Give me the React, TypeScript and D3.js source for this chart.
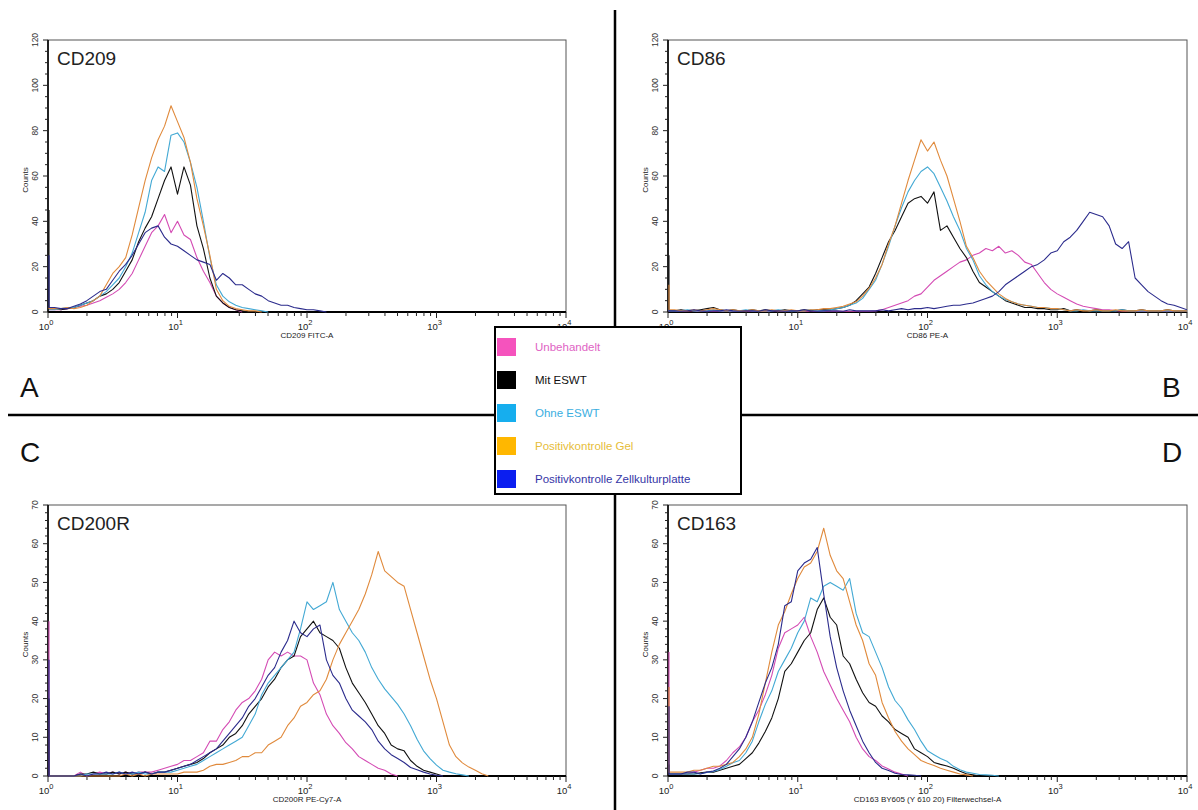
import React from "react";
import * as d3 from "d3";

// histogram bins: value i sits at 10^(i * BIN_STEP); bin 0 is the pile-up at the axis edge
const BIN_STEP = 0.05;

const seriesNames = [
  "Unbehandelt",
  "Mit ESWT",
  "Ohne ESWT",
  "Positivkontrolle Gel",
  "Positivkontrolle Zellkulturplatte",
];
const lineColors = ["#d44bb4", "#111111", "#43a9d4", "#e08a3c", "#2b2b8c"];
const swatchColors = ["#f553bd", "#000000", "#16aeee", "#ffb700", "#0b1ef0"];
const textColors = ["#e063c4", "#111111", "#3aaedf", "#e6bd3a", "#3535a6"];

// CD209
const cd209Pink = [1, 1, 1, 1.5, 2, 2.5, 3, 4, 5, 6.5, 8, 10, 13, 17, 23, 29, 35, 38, 43, 35, 40, 34, 32, 24, 18, 13, 7, 4, 2, 1, 0];
const cd209Black = [45, 1.5, 1, 1.5, 2, 3, 4, 5, 7, 8, 10, 13, 18, 23, 31, 37, 42, 50, 58, 64, 52, 64, 56, 38, 28, 15, 7, 4, 2, 1, 0.5, 0];
const cd209Cyan = [1, 1, 1.5, 2, 2, 3, 4, 5, 7, 9, 12, 15, 20, 26, 35, 44, 58, 64, 62, 78, 79, 75, 66, 55, 40, 24, 12, 7, 4.5, 3, 2, 1.5, 1, 0.5, 0];
const cd209Orange = [2, 1.5, 1.5, 2, 1.5, 2, 3, 5, 7, 12, 17, 20, 24, 34, 46, 58, 68, 76, 82, 91, 84, 77, 66, 50, 38, 25, 10, 5, 2.5, 1.5, 1, 0.5, 0.5, 0];
const cd209Navy = [25, 2, 1.5, 1.5, 2.5, 3.5, 5, 7, 9, 10, 14, 18, 21, 25, 30, 35, 37, 38, 33, 30, 29, 27, 25, 23, 22, 21, 14, 17, 15, 12, 12, 10, 8, 7, 5, 4, 3, 3, 2, 1.5, 1, 1, 0.5, 0];

// CD86
const cd86Pink = [1, 0.3, 0.3, 0.3, 0.3, 0.3, 0.3, 0.3, 0.3, 0.3, 0.3, 0.3, 0.3, 0.3, 0.3, 0.3, 0.3, 0.3, 0.3, 0.3, 0.3, 0.3, 0.3, 0.3, 0.3, 0.3, 0.3, 0.3, 0.3, 0.3, 0.3, 0.3, 0.5,
  1, 2, 3, 4, 5, 7, 8, 11, 14, 16, 18, 20, 22, 23, 25, 26, 28, 27, 29, 26, 27, 25, 22, 21, 17, 13, 10, 8, 6.5, 5, 3.5, 2.5, 2, 1.5, 1, 1, 0.5,
  0.5, 0.3, 0.3, 0.3, 0.3, 0.3, 0.3, 0.3, 0.3, 0.3, 0.3];
const cd86Black = [25, 0.5, 1, 0.5, 0.5, 1, 1.5, 2, 1, 0.5, 1, 0.5, 0.5, 1, 0.5, 1, 0.5, 0.5, 1, 0.5, 0.5, 1, 0.5, 1, 1,
  1, 1.5, 2, 3, 5, 8, 11, 17, 24, 31, 36, 42, 48, 50, 51, 48, 53, 36, 38, 33, 28, 24, 18, 13, 11, 9, 7, 5, 4, 3, 2, 2, 1.5, 1.5, 1, 1, 1.5,
  0.5, 1, 0.5, 0.5, 1, 0.5, 0.5, 0.5, 1, 0.5, 0.5, 1, 0.5, 0.5, 0.5, 1, 0.5, 0.5, 0.5];
const cd86Cyan = [1, 0.5, 0.5, 1, 0.5, 0.5, 0.5, 1, 0.5, 0.5, 0.5, 0.5, 1, 0.5, 0.5, 0.5, 0.5, 1, 0.5, 0.5, 0.5, 0.5, 1, 0.5, 0.5,
  1, 1.5, 2, 3, 4, 6, 10, 14, 21, 29, 38, 46, 53, 58, 62, 64, 61, 55, 49, 42, 36, 28, 23, 16, 12, 9, 7, 5.5, 4.5, 3.5, 3, 2.5, 2, 2, 1.5, 1.5, 1,
  0.5, 0.5, 1, 0.5, 0.5, 0.5, 0.5, 0.5, 1, 0.5, 0.5, 0.5, 0.5, 0.5, 0.5, 0.5, 0.5, 0.5, 0.5];
const cd86Orange = [12, 1, 0.5, 0.5, 1, 0.5, 1, 1.5, 1, 0.5, 1, 0.5, 0.5, 1, 0.5, 0.5, 1, 0.5, 0.5, 1, 0.5, 0.5, 1, 1, 1.5,
  1.5, 2, 2.5, 3.5, 4.5, 7, 10.5, 15, 21, 30, 38, 48, 58, 67, 76, 71, 75, 67, 60, 50, 40, 29, 24, 18, 14, 11, 8, 6, 4.5, 3.5, 3, 2.5, 2, 2, 1.5, 1.5,
  1, 0.5, 1, 0.5, 0.5, 1, 0.5, 0.5, 1, 0.5, 0.5, 0.5, 1, 0.5, 0.5, 0.5, 1, 0.5, 0.5, 0.5];
const cd86Navy = [1, 0.5, 0.3, 0.5, 1, 0.5, 0.3, 0.5, 0.5, 1, 0.5, 0.3, 0.5, 0.5, 0.3, 1, 0.5, 0.5, 0.3, 0.5, 0.5, 1, 0.5, 0.3, 0.5, 0.5, 0.5, 0.3, 1, 0.5, 0.5, 0.5, 0.5,
  1, 0.5, 1, 1.5, 1, 1.5, 1.5, 2, 1.5, 2, 2.5, 3, 3, 3.5, 4, 5, 6, 7, 9, 12, 14, 16, 18, 20, 21, 23, 26, 27, 31, 33, 36, 40, 44, 43, 42, 38, 30, 28, 31,
  15, 12, 9, 7, 5, 3.5, 3, 2, 1];

// CD200R
const cd200Pink = [40, 0, 0, 0, 0, 1, 0, 0.5, 1, 0.5, 1, 0.5, 1, 0.5, 1, 1, 1, 1.5, 2, 2.5, 3, 4, 4, 5, 6, 9, 9, 12, 14, 17, 19, 20, 22, 25, 30, 32, 31, 32, 31, 31, 30, 24, 21, 16, 13, 11, 8.6, 7, 5, 4, 3, 2, 1.5, 0.5, 0];
const cd200Black = [20, 0, 0, 0, 0, 0.5, 0.5, 1, 0.5, 0.5, 1, 0.5, 1, 0.5, 0.5, 1, 0.5, 1, 1, 1.5, 2, 2.5, 3, 3.5, 4.5, 6, 7, 8, 10, 11, 13, 16, 18, 20, 23, 25, 28, 30, 31, 36, 38, 40, 37, 36, 35, 33, 28, 24, 21.5, 19, 16, 13, 11, 8, 7, 6.5, 4, 2.5, 1.5, 1, 0.5, 0];
const cd200Cyan = [0, 0, 0, 0, 0, 0, 0.5, 0.5, 0.5, 0.5, 0.5, 1, 0.5, 0.5, 1, 0.5, 0.5, 1, 1, 1, 1.5, 2, 2.5, 3, 4, 5, 6, 7, 8, 9, 10, 13, 16, 21, 24, 26, 28, 30, 32, 38, 45, 43, 44, 45, 50, 43, 40, 37, 35, 32, 28, 25, 22.5, 20.5, 18.5, 16, 13, 9.5, 6.5, 4.5, 2.8, 1.5, 1, 0.6, 0.3, 0];
const cd200Orange = [0, 0, 0, 0, 0, 0, 0, 0, 0, 0, 0, 0, 0.5, 0, 0.5, 0, 0.5, 0.5, 0.5, 0.5, 0.5, 1, 1, 1, 1.5, 2.5, 3, 3, 3.5, 4, 5, 5, 6, 6, 8, 9, 10, 13, 15, 18, 19, 21, 22, 25, 30, 34, 37, 40, 43, 47, 52, 58, 53, 51.5, 50, 49, 43, 37, 31, 25, 20, 14, 8, 5, 3.4, 2.3, 1.5, 0.6, 0];
const cd200Navy = [30, 0, 0, 0, 0, 0.5, 0, 0.5, 0.5, 1, 0.5, 1, 0.5, 1, 0.5, 1, 0.5, 1, 1, 1.5, 2, 2.5, 3, 4, 5, 6, 7, 9, 11, 13, 15, 18, 20, 23, 26, 28, 32, 35, 40, 37, 36, 38, 39, 30, 26, 24, 20, 17, 15.5, 14, 12, 9, 7, 5.5, 4.5, 3.5, 2.2, 1.6, 1, 0.5, 0.2, 0];

// CD163
const cd163Pink = [32, 0.5, 0.5, 0.5, 1, 1.5, 2, 2, 2.6, 4, 6, 7.5, 10, 14, 17, 21, 26, 33, 37, 38, 39, 41, 36, 32, 27, 23.5, 20, 17, 14, 10, 7, 5, 4, 2.6, 1.8, 1, 0.5, 0];
const cd163Black = [3, 0.5, 0.5, 0.5, 0.5, 0.8, 1, 1, 1.5, 2, 2.5, 3, 4.5, 6, 8.5, 11.5, 15, 20, 27, 29, 32, 35, 37, 43, 46, 41, 39, 31, 29, 25, 21.5, 19, 18, 15.5, 14, 12, 11, 10, 7, 6, 5, 3.5, 3, 2.6, 2, 1.2, 0.6, 0.3, 0];
const cd163Cyan = [0.5, 0.5, 0.5, 0.5, 0.5, 0.6, 0.9, 1.2, 1.7, 2.5, 3.4, 4, 6, 9, 14, 18.5, 22, 27, 30, 33, 37, 40, 46, 45, 49, 50, 49, 48, 51, 42, 37, 36, 32, 28, 23, 19.5, 17.5, 14.5, 12, 9, 6.5, 5.5, 4.5, 3.8, 2.5, 1.6, 1, 0.7, 0.4, 0.3, 0.2, 0];
const cd163Orange = [23, 1, 1, 1, 1.5, 1.5, 2, 2.5, 2.5, 3, 3.5, 5, 7, 10, 16, 24, 32, 39, 42.5, 47, 51, 54, 55, 58, 64, 57, 53, 51, 45, 39, 35, 29, 26, 19, 15, 11.5, 9, 7, 5.5, 4, 3.3, 2.7, 2, 1.5, 1, 0.5, 0.3, 0];
const cd163Navy = [18, 0.5, 0.5, 1, 1, 0.5, 1, 1.3, 2, 3, 5, 7, 10, 14, 19, 24, 28, 34, 44, 45, 53, 55, 56, 59, 47, 36, 28, 22, 17, 13, 9, 6, 3.5, 2, 1.4, 0.7, 0.4, 0.3, 0.2, 0];

const xDecades = [1, 10, 100, 1000, 10000];

const panels = [
  { title: "CD209", xTitle: "CD209 FITC-A", left: 48, right: 566, top: 40, bottom: 312, yMax: 120, yMajor: 20, yMinor: 5,
    series: [cd209Pink, cd209Black, cd209Cyan, cd209Orange, cd209Navy] },
  { title: "CD86", xTitle: "CD86 PE-A", left: 668, right: 1187, top: 40, bottom: 312, yMax: 120, yMajor: 20, yMinor: 5,
    series: [cd86Pink, cd86Black, cd86Cyan, cd86Orange, cd86Navy] },
  { title: "CD200R", xTitle: "CD200R PE-Cy7-A", left: 48, right: 566, top: 505, bottom: 776, yMax: 70, yMajor: 10, yMinor: 2,
    series: [cd200Pink, cd200Black, cd200Cyan, cd200Orange, cd200Navy] },
  { title: "CD163", xTitle: "CD163 BY605 (Y 610 20) Filterwechsel-A", left: 668, right: 1187, top: 505, bottom: 776, yMax: 70, yMajor: 10, yMinor: 2,
    series: [cd163Pink, cd163Black, cd163Cyan, cd163Orange, cd163Navy] },
];

const FONT = "'Liberation Sans', Arial, sans-serif";

type PanelProps = (typeof panels)[number] & { idx: number };

// edge bin is drawn as a vertical spike on the axis, the rest as a polyline
const toPoints = (vals: number[]): [number, number][] => [
  [1, vals[0]],
  [1, vals[1]],
  ...vals.slice(1).map((v, i): [number, number] => [Math.pow(10, (i + 1) * BIN_STEP), v]),
];

const Panel = ({ title, xTitle, left, right, top, bottom, yMax, yMajor, yMinor, series, idx }: PanelProps) => {
  const x = d3.scaleLog().domain([1, 10000]).range([left, right]);
  const y = d3.scaleLinear().domain([0, yMax]).range([bottom, top]);
  const line = d3
    .line<[number, number]>()
    .x((d) => x(d[0]) + (d[0] === 1 ? 1 : 0))
    .y((d) => y(d[1]));
  const yTicks = d3.range(0, yMax + 0.001, yMinor);
  const xTicks = x.ticks();
  const clipId = `clip-${idx}`;
  return (
    <g>
      <defs>
        <clipPath id={clipId}>
          <rect x={left - 1} y={top} width={right - left + 1} height={bottom - top + 1} />
        </clipPath>
      </defs>
      <rect x={left} y={top} width={right - left} height={bottom - top} fill="none" stroke="#555" strokeWidth={1} />
      {/* y axis */}
      <line x1={left} x2={left} y1={top} y2={bottom} stroke="#000" strokeWidth={1.6} />
      {yTicks.map((t) => {
        const major = t % yMajor === 0;
        return (
          <g key={t}>
            <line x1={left - (major ? 5 : 3)} x2={left} y1={y(t)} y2={y(t)} stroke="#222" strokeWidth={1} />
            {major && (
              <text
                transform={`translate(${left - 10},${y(t)}) rotate(-90)`}
                textAnchor="middle"
                fontSize={8.5}
                fontFamily={FONT}
                fill="#333"
              >
                {t}
              </text>
            )}
          </g>
        );
      })}
      <text
        transform={`translate(${left - 20},${(top + bottom) / 2 + 4}) rotate(-90)`}
        textAnchor="middle"
        fontSize={8}
        fontFamily={FONT}
        fill="#222"
      >
        Counts
      </text>
      {/* x axis */}
      <line x1={left} x2={right} y1={bottom} y2={bottom} stroke="#000" strokeWidth={2} />
      {xTicks.map((t, i) => {
        const major = xDecades.includes(t);
        return <line key={i} x1={x(t)} x2={x(t)} y1={bottom} y2={bottom + (major ? 6 : 4)} stroke="#222" strokeWidth={1} />;
      })}
      {xDecades.map((t, i) => (
        <text key={t} x={x(t) - 2} y={bottom + 18} textAnchor="middle" fontSize={9.5} fontFamily={FONT} fill="#222">
          10
          <tspan dy={-5} fontSize={7.5}>
            {i}
          </tspan>
        </text>
      ))}
      <text x={x(100)} y={bottom + 26} textAnchor="middle" fontSize={8} fontFamily={FONT} fill="#222">
        {xTitle}
      </text>
      <g clipPath={`url(#${clipId})`}>
        {series.map((vals, i) => (
          <path key={i} d={line(toPoints(vals)) || ""} fill="none" stroke={lineColors[i]} strokeWidth={1.1} strokeLinejoin="round" />
        ))}
      </g>
      <text x={left + 9} y={top + 25} fontSize={19} fontFamily={FONT} fill="#222">
        {title}
      </text>
    </g>
  );
};

const App = () => {
  const legendX = 495;
  const legendY = 327;
  const rowY = d3.scaleLinear().domain([0, 4]).range([legendY + 20, legendY + 152]);
  return (
    <svg width={1198} height={810} style={{ position: "absolute", left: 0, top: 0, background: "#fff" }}>
      <rect width={1198} height={810} fill="#fff" />
      {panels.map((p, i) => (
        <Panel key={p.title} {...p} idx={i} />
      ))}
      {/* dividers */}
      <line x1={615} x2={615} y1={10} y2={810} stroke="#000" strokeWidth={2.5} />
      <line x1={8} x2={1198} y1={415} y2={415} stroke="#000" strokeWidth={2.5} />
      {/* panel letters */}
      {[
        ["A", 20, 397],
        ["B", 1162, 397],
        ["C", 20, 462],
        ["D", 1162, 462],
      ].map(([l, lx, ly]) => (
        <text key={l as string} x={lx as number} y={ly as number} fontSize={28} fontFamily={FONT} fill="#111">
          {l}
        </text>
      ))}
      {/* legend */}
      <rect x={legendX} y={legendY} width={246} height={167} fill="#fff" stroke="#000" strokeWidth={2} />
      {seriesNames.map((name, i) => (
        <g key={name}>
          <rect x={legendX + 2} y={rowY(i) - 9} width={19} height={18} fill={swatchColors[i]} />
          <text x={legendX + 40} y={rowY(i) + 4} fontSize={11.5} fontFamily={FONT} fill={textColors[i]}>
            {name}
          </text>
        </g>
      ))}
    </svg>
  );
};

export default App;
